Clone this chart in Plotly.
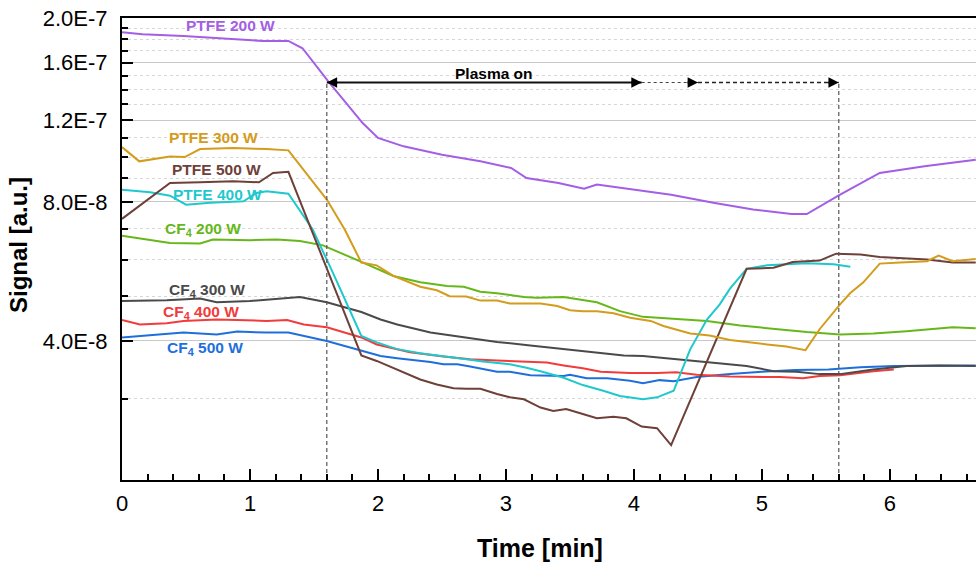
import math
import plotly.graph_objects as go

# ---------------- data (signal values in units of 1e-8 a.u.) ----------------
SCALE = 1e-8

t_ptfe200 = [0, 0.16, 0.48, 0.77, 1.10, 1.30, 1.41, 1.61, 1.88, 2.00, 2.20, 2.50, 2.80, 3.04,
             3.16, 3.41, 3.61, 3.71, 3.95, 4.29, 4.62, 4.93, 5.23, 5.35, 5.60, 5.92, 6.27, 6.67]
s_ptfe200 = [18.63, 18.44, 18.29, 18.08, 17.84, 17.84, 17.20, 14.60, 11.85, 11.00, 10.55, 10.12, 9.79, 9.47,
             9.01, 8.79, 8.54, 8.72, 8.54, 8.29, 7.96, 7.70, 7.53, 7.53, 8.26, 9.24, 9.55, 9.87]

t_ptfe300 = [0, 0.135, 0.375, 0.49, 0.61, 0.87, 1.13, 1.30, 1.60, 1.74, 1.87, 1.99, 2.12, 2.33, 2.46,
             2.56, 2.69, 2.80, 2.93, 3.03, 3.27, 3.40, 3.50, 3.60, 3.71, 3.84, 3.97, 4.13, 4.23, 4.36,
             4.44, 4.59, 4.75, 5.04, 5.19, 5.34, 5.45, 5.61, 5.69, 5.79, 5.92, 6.08, 6.29, 6.38, 6.49, 6.67]
s_ptfe300 = [10.51, 9.79, 10.03, 10.00, 10.41, 10.46, 10.41, 10.34, 8.09, 6.97, 5.91, 5.83, 5.53, 5.24, 5.15,
             5.00, 4.99, 4.89, 4.89, 4.82, 4.82, 4.76, 4.66, 4.64, 4.64, 4.59, 4.49, 4.42, 4.31, 4.20,
             4.15, 4.11, 4.02, 3.93, 3.89, 3.82, 4.24, 4.80, 5.08, 5.35, 5.88, 5.91, 5.95, 6.12, 5.95, 6.02]

t_ptfe500 = [0, 0.166, 0.375, 0.61, 0.87, 1.07, 1.18, 1.30, 1.87, 1.99, 2.15, 2.33, 2.46, 2.59, 2.69,
             2.80, 2.93, 3.03, 3.14, 3.27, 3.37, 3.47, 3.60, 3.71, 3.84, 3.94, 4.06, 4.18, 4.29, 4.88,
             5.09, 5.24, 5.45, 5.58, 5.77, 5.92, 6.29, 6.49, 6.67]
s_ptfe500 = [7.35, 7.96, 8.79, 8.82, 8.86, 8.82, 9.24, 9.29, 3.72, 3.62, 3.47, 3.30, 3.22, 3.16, 3.15,
             3.15, 3.07, 3.02, 2.99, 2.87, 2.82, 2.85, 2.78, 2.72, 2.74, 2.72, 2.61, 2.59, 2.38, 5.73,
             5.76, 5.93, 5.97, 6.18, 6.15, 6.08, 6.00, 5.91, 5.91]

t_ptfe400 = [0, 0.22, 0.375, 0.50, 0.69, 0.95, 1.05, 1.13, 1.30, 1.49, 1.65, 1.87, 1.99, 2.15, 2.33,
             2.48, 2.66, 2.82, 3.03, 3.16, 3.27, 3.45, 3.60, 3.76, 3.89, 4.07, 4.18, 4.31, 4.44, 4.57,
             4.67, 4.75, 4.88, 5.04, 5.35, 5.56, 5.69]
s_ptfe400 = [8.50, 8.39, 8.25, 7.89, 7.96, 8.02, 8.36, 8.43, 8.33, 6.97, 5.60, 4.10, 3.97, 3.84, 3.76,
             3.72, 3.66, 3.61, 3.56, 3.50, 3.44, 3.33, 3.21, 3.12, 3.04, 2.99, 3.02, 3.12, 3.84, 4.45,
             4.80, 5.19, 5.73, 5.83, 5.89, 5.86, 5.79]

t_cf4_200 = [0, 0.166, 0.375, 0.61, 0.71, 1.0, 1.21, 1.39, 1.57, 1.87, 2.12, 2.33, 2.54, 2.67, 2.80,
             2.93, 3.14, 3.24, 3.45, 3.71, 3.89, 4.07, 4.31, 4.57, 4.83, 5.09, 5.35, 5.61, 5.87, 6.13,
             6.49, 6.67]
s_cf4_200 = [6.76, 6.65, 6.52, 6.50, 6.63, 6.61, 6.63, 6.58, 6.44, 5.93, 5.53, 5.36, 5.26, 5.24, 5.11,
             5.07, 4.98, 4.96, 4.98, 4.85, 4.64, 4.51, 4.47, 4.42, 4.32, 4.25, 4.18, 4.13, 4.15, 4.20,
             4.28, 4.26]

t_cf4_300 = [0, 0.35, 0.61, 0.74, 1.0, 1.18, 1.39, 1.60, 1.87, 2.02, 2.15, 2.41, 2.67, 2.93, 3.19,
             3.45, 3.71, 3.92, 4.07, 4.31, 4.51, 4.70, 4.88, 5.09, 5.27, 5.45, 5.61, 5.87, 6.13, 6.39, 6.67]
s_cf4_300 = [4.88, 4.90, 4.94, 4.85, 4.88, 4.92, 4.98, 4.85, 4.62, 4.45, 4.34, 4.17, 4.07, 3.98, 3.91,
             3.84, 3.77, 3.72, 3.71, 3.66, 3.62, 3.57, 3.53, 3.44, 3.43, 3.39, 3.39, 3.47, 3.53, 3.54, 3.53]

t_cf4_400 = [0, 0.14, 0.35, 0.48, 0.74, 1.0, 1.13, 1.29, 1.42, 1.60, 1.87, 1.99, 2.25, 2.51, 2.72,
             2.93, 3.19, 3.32, 3.45, 3.60, 3.74, 3.97, 4.18, 4.33, 4.49, 4.75, 5.14, 5.32, 5.45, 5.61,
             5.87, 6.03]
s_cf4_400 = [4.44, 4.34, 4.37, 4.42, 4.45, 4.44, 4.42, 4.44, 4.34, 4.28, 4.07, 3.93, 3.78, 3.70, 3.65,
             3.63, 3.61, 3.59, 3.54, 3.49, 3.43, 3.41, 3.41, 3.42, 3.38, 3.35, 3.34, 3.32, 3.36, 3.37,
             3.44, 3.47]

t_cf4_500 = [0, 0.22, 0.48, 0.74, 0.90, 1.13, 1.30, 1.60, 1.86, 2.02, 2.15, 2.41, 2.51, 2.62, 2.72,
             2.93, 3.03, 3.19, 3.45, 3.50, 3.63, 3.79, 3.97, 4.07, 4.20, 4.31, 4.49, 4.62, 4.75, 5.0,
             5.26, 5.52, 5.77, 6.03, 6.67]
s_cf4_500 = [4.07, 4.11, 4.17, 4.13, 4.19, 4.17, 4.17, 4.00, 3.82, 3.71, 3.67, 3.60, 3.56, 3.56, 3.52,
             3.43, 3.43, 3.37, 3.36, 3.38, 3.32, 3.32, 3.28, 3.24, 3.29, 3.27, 3.34, 3.37, 3.39, 3.43,
             3.46, 3.47, 3.51, 3.53, 3.54]

series_labels = ["CF<sub>4</sub> 500 W", "CF<sub>4</sub> 400 W", "CF<sub>4</sub> 300 W", "CF<sub>4</sub> 200 W",
                 "PTFE 400 W", "PTFE 500 W", "PTFE 300 W", "PTFE 200 W"]
series_times = [t_cf4_500, t_cf4_400, t_cf4_300, t_cf4_200, t_ptfe400, t_ptfe500, t_ptfe300, t_ptfe200]
series_values = [s_cf4_500, s_cf4_400, s_cf4_300, s_cf4_200, s_ptfe400, s_ptfe500, s_ptfe300, s_ptfe200]
series_colors = ["#1E6FDC", "#F23B3B", "#4A4A4A", "#66B81A", "#1FC8CC", "#6E4038", "#D39C1C", "#A45EE5"]
# label centres in paper coordinates
label_pos = [(0.0972, 0.284), (0.0925, 0.362), (0.0995, 0.411), (0.0948, 0.543),
             (0.1124, 0.617), (0.1112, 0.671), (0.1066, 0.742), (0.1276, 0.983)]

x_ticks = [0, 1, 2, 3, 4, 5, 6]
y_tick_vals = [4e-8, 8e-8, 1.2e-7, 1.6e-7, 2.0e-7]
y_tick_text = ["4.0E-8", "8.0E-8", "1.2E-7", "1.6E-7", "2.0E-7"]
y_minor_vals = [3e-8, 5e-8, 6e-8, 7e-8, 9e-8, 1.0e-7, 1.1e-7, 1.3e-7, 1.4e-7, 1.5e-7, 1.7e-7, 1.8e-7, 1.9e-7]

Y_MIN, Y_MAX = 2e-8, 2e-7
X_MAX = 6.672

plasma_start = 1.6
plasma_solid_end = 4.06
plasma_dot_end = 4.5
plasma_off = 5.6
arrow_level = 1.45e-7

FONT = "Arial, Liberation Sans, sans-serif"

fig = go.Figure()

for t, s, c in zip(series_times, series_values, series_colors):
    fig.add_trace(go.Scatter(x=t, y=[v * SCALE for v in s], mode="lines",
                             line=dict(color=c, width=2), showlegend=False, hoverinfo="skip"))

# vertical dashed guide lines
for xv in (plasma_start, plasma_off):
    fig.add_trace(go.Scatter(x=[xv, xv], y=[Y_MIN, arrow_level], mode="lines",
                             line=dict(color="#555555", width=1.2, dash="4px,3px"),
                             showlegend=False, hoverinfo="skip"))

# arrow segments
fig.add_trace(go.Scatter(x=[plasma_start, plasma_solid_end], y=[arrow_level, arrow_level], mode="lines",
                         line=dict(color="#111111", width=2), showlegend=False, hoverinfo="skip"))
fig.add_trace(go.Scatter(x=[plasma_solid_end, plasma_dot_end], y=[arrow_level, arrow_level], mode="lines",
                         line=dict(color="#444444", width=1.2, dash="dot"), showlegend=False, hoverinfo="skip"))
fig.add_trace(go.Scatter(x=[plasma_dot_end, plasma_off], y=[arrow_level, arrow_level], mode="lines",
                         line=dict(color="#222222", width=1.5, dash="4px,3px"), showlegend=False, hoverinfo="skip"))

annotations = []
ly = math.log10(arrow_level)
for xv, axp in ((plasma_start, 12), (plasma_solid_end, -12), (plasma_dot_end, -12), (plasma_off, -12)):
    annotations.append(dict(x=xv, y=ly, xref="x", yref="y", ax=axp, ay=0, text="", showarrow=True,
                            arrowhead=2, arrowsize=1.15, arrowwidth=1.8, arrowcolor="#000000"))

annotations.append(dict(x=2.91, y=math.log10(1.52e-7), xref="x", yref="y", text="<b>Plasma on</b>",
                        showarrow=False, font=dict(family=FONT, size=15.5, color="#000000"),
                        xanchor="center", yanchor="middle"))

for lab, (px, py), c in zip(series_labels, label_pos, series_colors):
    annotations.append(dict(x=px, y=py, xref="paper", yref="paper", text="<b>" + lab + "</b>",
                            showarrow=False, xanchor="center", yanchor="middle",
                            font=dict(family=FONT, size=15.5, color=c)))

# axis titles
annotations.append(dict(x=0.4895, y=-0.147, xref="paper", yref="paper", text="<b>Time [min]</b>",
                        showarrow=False, xanchor="center", yanchor="middle",
                        font=dict(family=FONT, size=25, color="#000000")))
annotations.append(dict(x=-0.1206, y=0.5087, xref="paper", yref="paper", text="<b>Signal [a.u.]</b>",
                        textangle=-90, showarrow=False, xanchor="center", yanchor="middle",
                        font=dict(family=FONT, size=24, color="#000000")))

fig.update_layout(
    width=976, height=563,
    margin=dict(l=122, r=0, t=18, b=83),
    paper_bgcolor="white", plot_bgcolor="white",
    font=dict(family=FONT, color="#000000"),
    annotations=annotations,
    xaxis=dict(range=[0, X_MAX], tickmode="array", tickvals=x_ticks, ticks="inside", ticklen=11,
               tickwidth=2, tickcolor="#000000", showline=True, linewidth=2, linecolor="#000000",
               mirror=True, showgrid=False, zeroline=False, tickfont=dict(size=22, family=FONT),
               ticklabelstandoff=3,
               minor=dict(dtick=0.2, tick0=0, ticks="inside", ticklen=6, tickwidth=1.5,
                          tickcolor="#000000", showgrid=False)),
    yaxis=dict(type="log", range=[math.log10(Y_MIN), math.log10(Y_MAX)], tickmode="array",
               tickvals=y_tick_vals, ticktext=y_tick_text, ticks="inside", ticklen=11, tickwidth=2,
               tickcolor="#000000", showline=True, linewidth=2, linecolor="#000000",
               showgrid=True, gridcolor="#C8C8C8", gridwidth=1, zeroline=False,
               tickfont=dict(size=22, family=FONT), ticklabelstandoff=8,
               minor=dict(tickmode="array", tickvals=y_minor_vals, ticks="inside", ticklen=6,
                          tickwidth=1.5, tickcolor="#000000", showgrid=True, gridcolor="#D6D6D6",
                          griddash="3px,3px", gridwidth=1)),
)

fig.write_html("out.html")
